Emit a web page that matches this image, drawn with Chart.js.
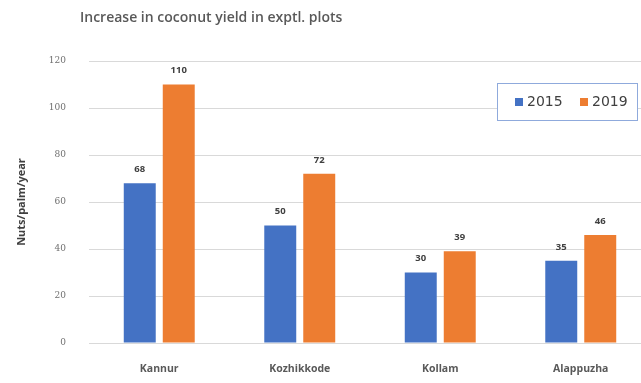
<!DOCTYPE html>
<html>
<head>
<meta charset="utf-8">
<script src="https://cdn.jsdelivr.net/npm/chart.js@4.4.0/dist/chart.umd.min.js"></script>
<style>
    html, body { margin: 0; padding: 0; background: #fff; overflow: hidden; }
    #wrap { width: 641px; height: 383px; overflow: hidden; }
</style>
</head>
<body>
<div id="wrap"><canvas id="coconut_yield" width="651" height="383"></canvas></div>
<script>
// data
var districts = ["Kannur", "Kozhikkode", "Kollam", "Alappuzha"];
var yield2015 = [68, 50, 30, 35];
var yield2019 = [110, 72, 39, 46];
var seriesNames = ["2015", "2019"];
var yTicks = [0, 20, 40, 60, 80, 100, 120];
var chartTitle = "Increase in coconut yield in exptl. plots";
var yTitle = "Nuts/palm/year";

var colors = ["#4472C4", "#ED7D31"];

// title, value labels and boxed legend drawn on the canvas
var extras = {
    id: "extras",
    afterDatasetsDraw: function (chart) {
        var ctx = chart.ctx;
        ctx.save();
        ctx.font = "bold 9.5px 'Open Sans'";
        ctx.fillStyle = "#404040";
        ctx.textAlign = "center";
        ctx.textBaseline = "bottom";
        chart.data.datasets.forEach(function (ds, i) {
            chart.getDatasetMeta(i).data.forEach(function (bar, j) {
                ctx.fillText(ds.data[j], bar.x, bar.y - 9);
            });
        });
        ctx.restore();
    },
    afterDraw: function (chart) {
        var ctx = chart.ctx;
        var area = chart.chartArea;
        ctx.save();
        // title
        ctx.font = "600 14px 'Open Sans'";
        ctx.fillStyle = "#595959";
        ctx.textAlign = "left";
        ctx.textBaseline = "middle";
        ctx.fillText(chartTitle, 80, 18);

        // legend with border
        var bx = area.right - 154, by = area.top + 22, bw = 140, bh = 37;
        ctx.fillStyle = "#fff";
        ctx.fillRect(bx, by, bw, bh);
        ctx.strokeStyle = "#8faadc";
        ctx.lineWidth = 1;
        ctx.strokeRect(bx + 0.5, by + 0.5, bw, bh);
        ctx.font = "14px 'DejaVu Sans'";
        ctx.textBaseline = "middle";
        var x = bx + 18;
        seriesNames.forEach(function (name, i) {
            ctx.fillStyle = colors[i];
            ctx.fillRect(x, by + 15, 8, 8);
            ctx.fillStyle = "#404040";
            ctx.fillText(name, x + 12, by + 19);
            x += 65;
        });
        ctx.restore();
    }
};

var ctxEl = document.getElementById("coconut_yield");
var yieldChart = new Chart(ctxEl, {
    type: "bar",
    data: {
        labels: districts,
        datasets: [
            {
                label: seriesNames[0],
                backgroundColor: colors[0],
                data: yield2015,
                categoryPercentage: 0.555,
                barPercentage: 0.82,
            },
            {
                label: seriesNames[1],
                backgroundColor: colors[1],
                data: yield2019,
                categoryPercentage: 0.555,
                barPercentage: 0.82,
            },
        ],
    },
    options: {
        responsive: false,
        animation: false,
        layout: { padding: { top: 61, left: 15, right: 0, bottom: 0 } },
        plugins: {
            legend: { display: false },
            tooltip: { enabled: false },
            title: { display: false },
        },
        scales: {
            x: {
                grid: { display: false },
                border: { color: "#d9d9d9" },
                ticks: {
                    color: "#595959",
                    font: { family: "'Open Sans'", size: 10.5, weight: "bold" },
                    padding: 12,
                },
                afterFit: function (scale) { scale.height = 40; },
            },
            y: {
                min: 0,
                max: 120,
                afterBuildTicks: function (scale) {
                    scale.ticks = yTicks.map(function (v) { return { value: v }; });
                },
                grid: { color: "#d9d9d9", drawTicks: false },
                border: { display: false },
                ticks: {
                    color: "#6f6f6f",
                    font: { family: "'DejaVu Serif'", size: 9 },
                    padding: 23,
                },
                title: {
                    display: true,
                    text: yTitle,
                    color: "#404040",
                    font: { family: "'Open Sans'", size: 11, weight: "bold" },
                    padding: { top: 0, bottom: 0 },
                },
                afterFit: function (scale) { scale.width = 74; },
            },
        },
    },
    plugins: [extras],
});
</script>
</body>
</html>
